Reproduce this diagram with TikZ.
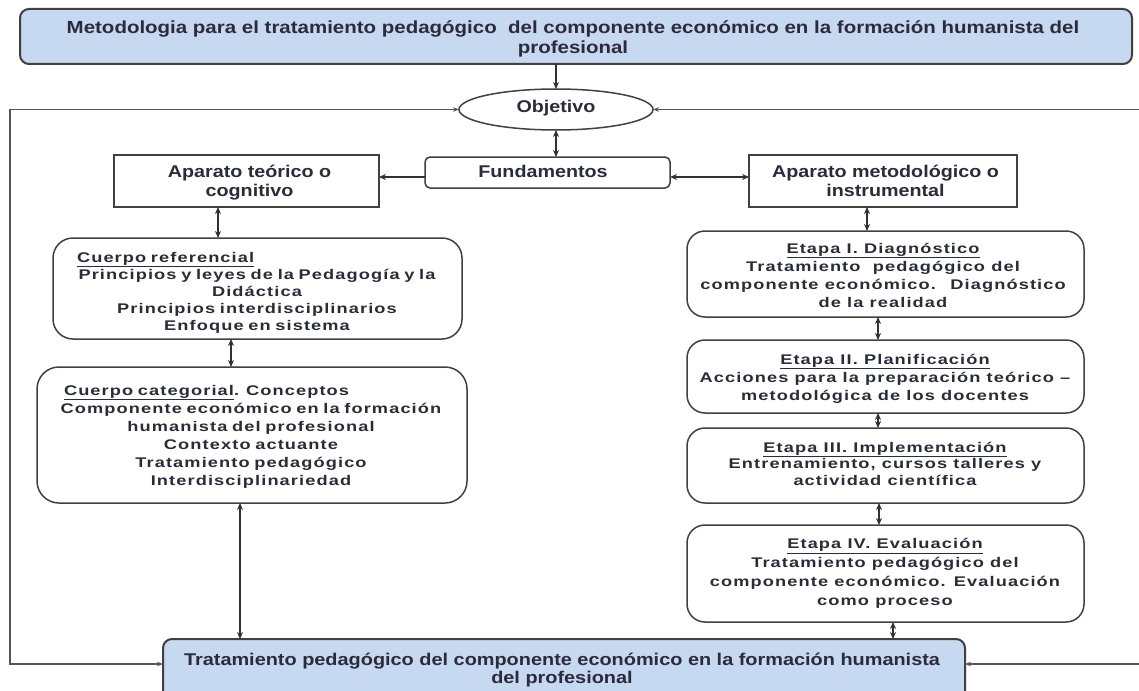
\documentclass[tikz,border=0pt]{standalone}
\usepackage{fontspec}
\setmainfont{Liberation Sans}
\newfontfamily\hfont[FakeStretch=1.16]{Liberation Sans}
\newfontfamily\hfontw[FakeStretch=1.17]{Liberation Sans}
\newfontfamily\bfontfam[FakeStretch=1.3,LetterSpace=8]{Liberation Sans}
\usetikzlibrary{shapes.geometric,arrows.meta}
\definecolor{blueC}{HTML}{C6D9F0}
\definecolor{boxc}{HTML}{404040}
\definecolor{txt}{HTML}{2B2B3B}
\definecolor{linec}{HTML}{303030}
\definecolor{loopc}{HTML}{555555}
\newcommand\hd[2]{\hfont\bfseries\fontsize{#1}{#2}\selectfont}
\newcommand\hw[2]{\hfontw\bfseries\fontsize{#1}{#2}\selectfont}
\newcommand\bd[1]{\bfontfam\bfseries\fontsize{14}{#1}\selectfont}
\begin{document}
\begin{tikzpicture}[x=1pt,y=-1pt,
  mybox/.style={draw=boxc,line width=1.5pt,inner sep=0pt,outer sep=0pt},
  bluebox/.style={mybox,line width=2pt,fill=blueC,rounded corners=9pt},
  rbox/.style={mybox,rounded corners=18pt},
  sbox/.style={mybox},
  txtn/.style={inner sep=0pt,outer sep=0pt,text=txt,align=center},
  dblarr/.style={line width=1.5pt,draw=linec,{Stealth[length=7pt,width=6pt]}-{Stealth[length=7pt,width=6pt]}},
  onearr/.style={line width=1.5pt,draw=linec,-{Stealth[length=7pt,width=6pt]}},
  loopline/.style={line width=1.6pt,draw=loopc,{Stealth[length=6pt,width=4.5pt]}-{Stealth[length=6pt,width=4.5pt]}}]
\useasboundingbox[fill=white] (0,0) rectangle (1139,690);

% boxes
\node[bluebox,minimum width=1112pt,minimum height=55pt] (top) at (576,36.5) {};
\node[mybox,ellipse,minimum width=194pt,minimum height=41pt] (obj) at (556,109.5) {};
\node[mybox,rounded corners=5pt,minimum width=245pt,minimum height=31pt] (fund) at (547.5,172.5) {};
\node[sbox,minimum width=265pt,minimum height=52pt] (apt) at (246.5,181) {};
\node[sbox,minimum width=268pt,minimum height=52pt] (apm) at (883,181) {};
\node[rbox,rounded corners=20pt,minimum width=409pt,minimum height=101pt] (cref) at (257.5,288.5) {};
\node[rbox,rounded corners=22pt,minimum width=430pt,minimum height=136pt] (ccat) at (252,435) {};
\node[rbox,minimum width=397pt,minimum height=86pt] (e1) at (885.5,274) {};
\node[rbox,minimum width=397pt,minimum height=73pt] (e2) at (885.5,376.5) {};
\node[rbox,minimum width=397pt,minimum height=75pt] (e3) at (885.5,465.5) {};
\node[rbox,minimum width=397pt,minimum height=97pt] (e4) at (885.5,573.5) {};
\node[bluebox,minimum width=802pt,minimum height=62pt] (bot) at (564,670) {};

% texts
\node[txtn,font=\hw{17.5}{20}] (ttop) at (573,39.5) {\strut Metodologia para el tratamiento pedagógico~ del componente económico en la formación humanista del\\profesional\strut};
\node[txtn,font=\hd{17}{18}] (tobj) at (556,109.4) {\strut Objetivo};
\node[txtn,font=\hd{17}{18}] (tfund) at (543,173.4) {\strut Fundamentos};
\node[txtn,font=\hd{17}{19}] (tapt) at (249.5,182.7) {\strut Aparato teórico o\\cognitivo\strut};
\node[txtn,font=\hd{17}{19}] (tapm) at (885.5,182.7) {\strut Aparato metodológico o\\instrumental\strut};
\node[txtn,text width=400pt,font=\bd{17}] (tcref) at (257,292.6) {\makebox[\hsize][l]{\hspace{20pt}\strut\underline{Cuerpo referencial}}\\Principios y leyes de la Pedagogía y la\\Didáctica\\Principios interdisciplinarios\\Enfoque en sistema\strut};
\node[txtn,text width=400pt,font=\bd{18}] (tccat) at (251,436.4) {\makebox[\hsize][l]{\hspace{13pt}\strut\underline{Cuerpo categorial}. Conceptos}\\Componente económico en la formación\\humanista del profesional\\Contexto actuante\\Tratamiento pedagógico\\Interdisciplinariedad\strut};
\node[txtn,font=\bd{18}] (te1) at (883,276.4) {\strut\underline{Etapa I. Diagnóstico}\\Tratamiento~ pedagógico del\\componente económico.~ Diagnóstico\\de la realidad\strut};
\node[txtn,font=\bd{18}] (te2) at (885,378.4) {\strut\underline{Etapa II. Planificación}\\Acciones para la preparación teórico –\\metodológica de los docentes\strut};
\node[txtn,font=\bd{16.5}] (te3) at (885,465.2) {\strut\underline{Etapa III. Implementación}\\Entrenamiento, cursos talleres y\\actividad científica\strut};
\node[txtn,font=\bd{18.7}] (te4) at (885,573.3) {\strut\underline{Etapa IV. Evaluación}\\Tratamiento pedagógico del\\componente económico. Evaluación\\como proceso\strut};
\node[txtn,font=\hw{17}{18}] (tbot) at (562,670.4) {\strut Tratamiento pedagógico del componente económico en la formación humanista\\del profesional\strut};

% helper coordinates
\coordinate (ya) at (0,177);
\coordinate (L2) at (10,664);
\coordinate (R2) at (1142,664);
\coordinate (xa) at (218,0);
\coordinate (xb) at (231,0);
\coordinate (xc) at (240,0);
\coordinate (xd) at (867,0);
\coordinate (xe) at (878,0);
\coordinate (xf) at (879,0);
\coordinate (xg) at (893,0);

% connectors
\draw[onearr] (top.south -| obj.north) -- (obj.north);
\draw[loopline] (obj.west) -| (L2) -- (L2 -| bot.west);
\draw[loopline] (obj.east) -| (R2) -- (R2 -| bot.east);
\draw[dblarr] (obj.south) -- (obj.south |- fund.north);
\draw[onearr] (fund.west |- ya) -- (apt.east |- ya);
\draw[dblarr] (fund.east |- ya) -- (apm.west |- ya);
\draw[dblarr] (apt.south -| xa) -- (cref.north -| xa);
\draw[dblarr] (cref.south -| xb) -- (ccat.north -| xb);
\draw[dblarr] (ccat.south -| xc) -- (bot.north -| xc);
\draw[dblarr] (apm.south -| xd) -- (e1.north -| xd);
\draw[dblarr] (e1.south -| xe) -- (e2.north -| xe);
\draw[dblarr] (e2.south -| xe) -- (e3.north -| xe);
\draw[dblarr] (e3.south -| xf) -- (e4.north -| xf);
\draw[dblarr] (e4.south -| xg) -- (bot.north -| xg);
\end{tikzpicture}
\end{document}
